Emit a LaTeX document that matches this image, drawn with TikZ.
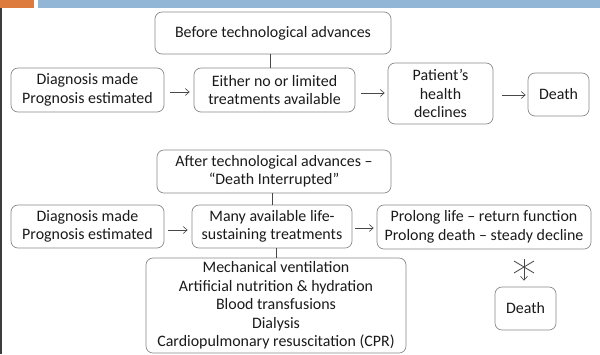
\documentclass[tikz,border=0pt]{standalone}
\usepackage{fontspec}
\setmainfont{Carlito}
\usetikzlibrary{arrows.meta,calc}
\definecolor{boxgray}{HTML}{8A8A8A}
\definecolor{txt}{HTML}{1A1A1A}
\definecolor{barblue}{HTML}{92B6D5}
\definecolor{barorange}{HTML}{DD7A3E}
\tikzset{
  box/.style={draw=boxgray, line width=0.7pt, rounded corners=7bp, inner sep=0pt,
    align=center, text=txt, font=\fontsize{16}{18.5}\selectfont},
  link/.style={draw=txt!80, line width=0.6pt},
  flow/.style={link, -{Straight Barb[length=4bp,width=7bp]}},
}
\begin{document}
\begin{tikzpicture}[x=1bp,y=-1bp]
\useasboundingbox (0,0) rectangle (600,354);
\fill[white] (0,0) rectangle (600,354);
% header strip
\fill[barorange] (0,0) rectangle (34,8);
\fill[barblue] (38,0) rectangle (600,8);
\fill[txt!85] (0,8) rectangle (2,354);
% top section
\node[box, minimum width=236bp, minimum height=42bp] (before) at (273,33) {Before technological advances};
\node[box, minimum width=153bp, minimum height=44bp] (diag1) at (87.5,90) {Diagnosis made\\Prognosis estimated};
\node[box, minimum width=161bp, minimum height=44bp] (either) at (274.5,90) {Either no or limited\\treatments available};
\node[box, minimum width=105bp, minimum height=61bp] (patient) at (440.5,93.5) {Patient’s\\health\\declines};
\node[box, minimum width=61bp, minimum height=43bp] (death1) at (558.5,94.5) {Death};
\draw[link] (before.south -| 270,0) -- (either.north -| 270,0);
\draw[flow, shorten <=6bp, shorten >=4bp] (diag1.east |- 0,92) -- (either.west |- 0,92);
\draw[flow, shorten <=6bp, shorten >=3bp] (either.east |- 0,93) -- (patient.west |- 0,93);
\draw[flow, shorten <=9bp, shorten >=2bp] (patient.east |- 0,95) -- (death1.west |- 0,95);
% bottom section
\node[box, minimum width=234bp, minimum height=43bp] (after) at (274,171.5) {After technological advances –\\“Death Interrupted”};
\node[box, minimum width=153bp, minimum height=43bp] (diag2) at (87.5,226.5) {Diagnosis made\\Prognosis estimated};
\node[box, minimum width=160bp, minimum height=43bp] (many) at (272,226.5) {Many available life-\\sustaining treatments};
\node[box, minimum width=214bp, minimum height=44bp] (prolong) at (484,227) {Prolong life – return function\\Prolong death – steady decline};
\node[box, minimum width=260bp, minimum height=95bp] (list) at (276,305.5) {Mechanical ventilation\\Artificial nutrition \& hydration\\Blood transfusions\\Dialysis\\Cardiopulmonary resuscitation (CPR)};
\node[box, minimum width=61bp, minimum height=43bp] (death2) at (525.5,308.5) {Death};
\draw[link] (after.south -| 272,0) -- (many.north -| 272,0);
\draw[link] (many.south -| 276,0) -- (list.north -| 276,0);
\draw[flow, shorten <=4bp, shorten >=4bp] (diag2.east |- 0,230) -- (many.west |- 0,230);
\draw[flow, shorten <=3bp, shorten >=3bp] (many.east |- 0,228) -- (prolong.west |- 0,228);
% blocked arrow to death
\coordinate (xc) at (524,267);
\draw[flow, shorten <=10bp, shorten >=6bp] (prolong.south -| 524,0) -- (death2.north -| 524,0);
\draw[link, line width=0.8pt] ($(xc)+(-10,-6)$) -- ($(xc)+(10,6)$);
\draw[link, line width=0.8pt] ($(xc)+(-10,6)$) -- ($(xc)+(10,-6)$);
\end{tikzpicture}
\end{document}
